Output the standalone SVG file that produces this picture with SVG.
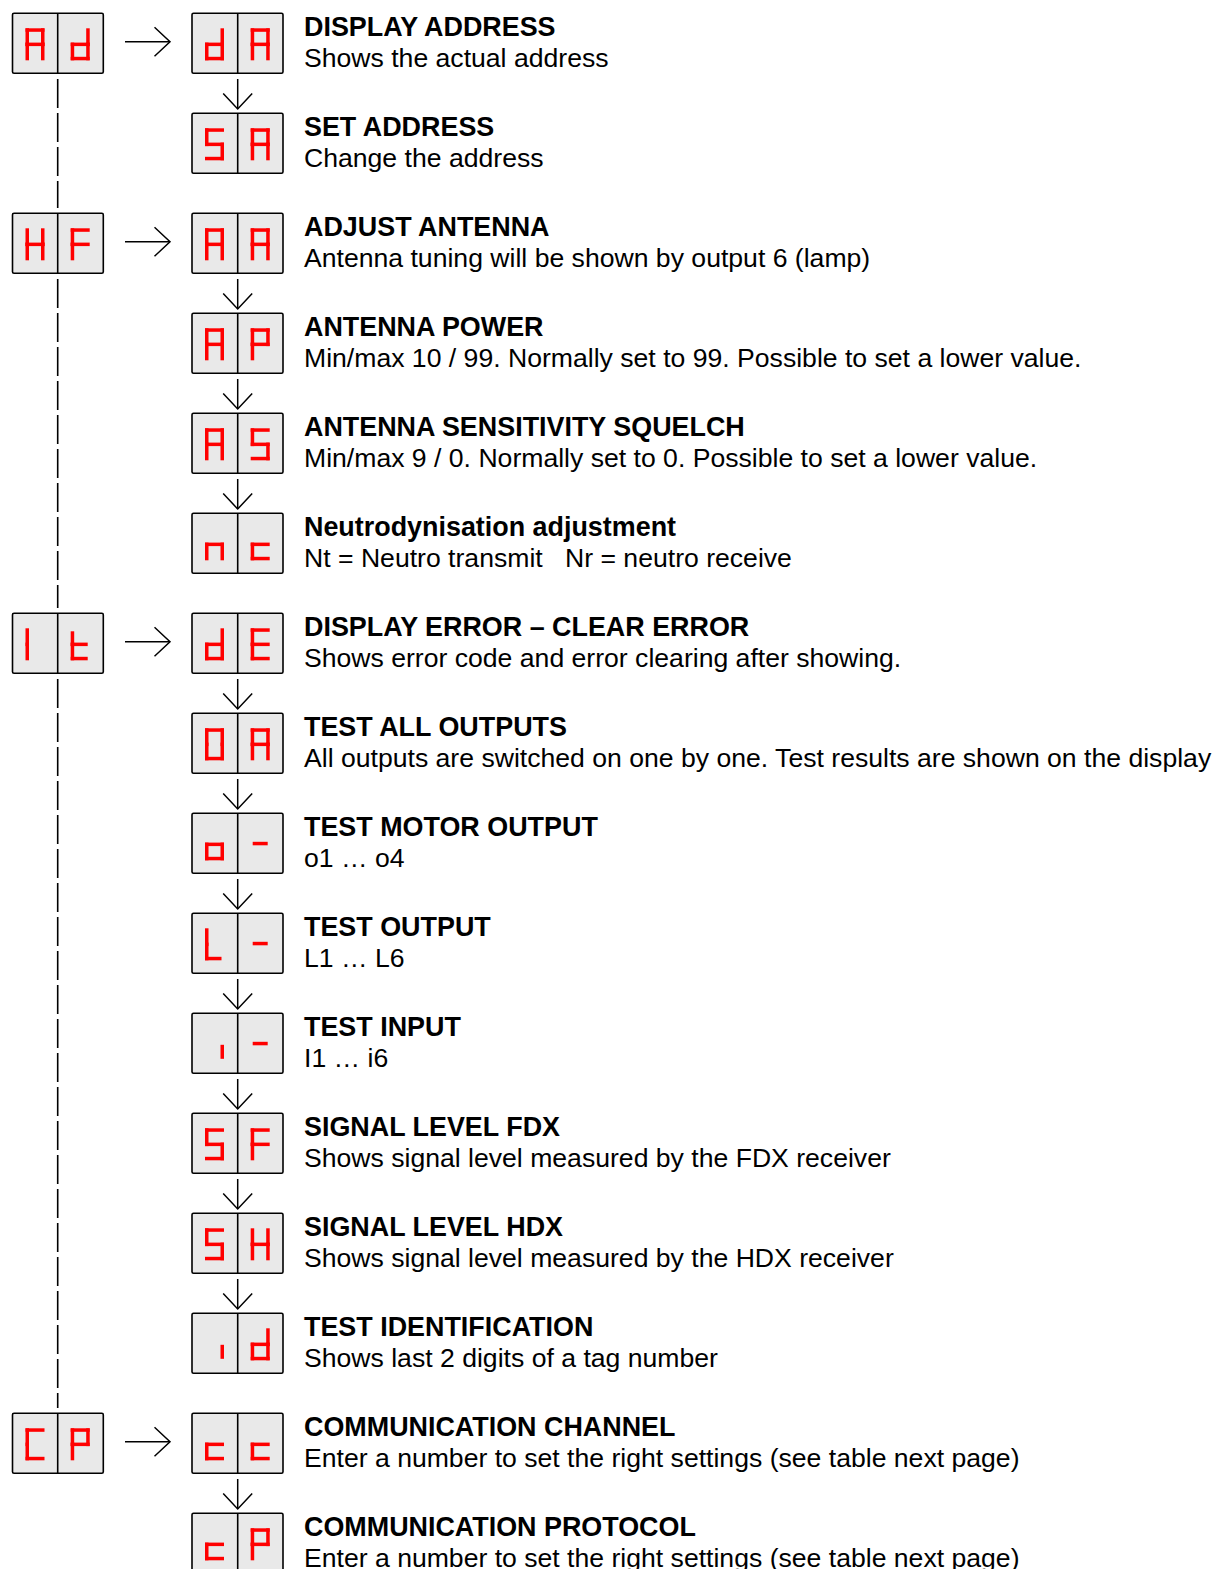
<svg xmlns="http://www.w3.org/2000/svg" xmlns:xlink="http://www.w3.org/1999/xlink" width="1220" height="1569" viewBox="0 0 1220 1569">
<style>
.box{fill:#E9E9E9;stroke:#000;stroke-width:1.6}
.div{stroke:#000;stroke-width:1.6}
.seg{fill:#FF0000}
.conn{fill:none;stroke:#000;stroke-width:1.5}
.dash{fill:none;stroke:#000;stroke-width:1.6;stroke-dasharray:29 5}
.t{font-family:"Liberation Sans",Arial,sans-serif;font-size:26.6px;fill:#000}
.b{font-weight:bold;font-size:26.9px}
</style>
<defs>
<marker id="arr" markerUnits="userSpaceOnUse" markerWidth="18" markerHeight="32" viewBox="-1 -1 18 32" refX="15.5" refY="14.5" orient="auto">
<path d="M0,0 L15.5,14.5 L0,29" fill="none" stroke="#000" stroke-width="1.5"/>
</marker>
<rect id="sa" class="seg" x="0" y="0" width="19" height="3.5"/>
<rect id="sb" class="seg" x="15.5" y="0" width="3.5" height="17.8"/>
<rect id="sc" class="seg" x="15.5" y="14.3" width="3.5" height="17.7"/>
<rect id="sd" class="seg" x="0" y="28.5" width="19" height="3.5"/>
<rect id="se" class="seg" x="0" y="14.3" width="3.5" height="17.7"/>
<rect id="sf" class="seg" x="0" y="0" width="3.5" height="17.8"/>
<rect id="sg" class="seg" x="0" y="14.3" width="19" height="3.5"/>
<g id="gA"><use href="#sa"/><use href="#sb"/><use href="#sc"/><use href="#se"/><use href="#sf"/><use href="#sg"/></g>
<g id="gd"><use href="#sb"/><use href="#sc"/><use href="#sd"/><use href="#se"/><use href="#sg"/></g>
<g id="gS"><use href="#sa"/><use href="#sf"/><use href="#sg"/><use href="#sc"/><use href="#sd"/></g>
<g id="gH"><use href="#sf"/><use href="#sb"/><use href="#se"/><use href="#sc"/><use href="#sg"/></g>
<g id="gF"><use href="#sa"/><use href="#sf"/><use href="#se"/><use href="#sg"/></g>
<g id="gP"><use href="#sa"/><use href="#sb"/><use href="#sf"/><use href="#sg"/><use href="#se"/></g>
<g id="gn"><use href="#sg"/><use href="#se"/><use href="#sc"/></g>
<g id="gc"><use href="#sg"/><use href="#se"/><use href="#sd"/></g>
<g id="gI"><use href="#sf"/><use href="#se"/></g>
<g id="gt"><rect class="seg" x="0" y="3" width="3.5" height="14.8"/><use href="#se"/><rect class="seg" x="0" y="14.3" width="17" height="3.5"/><rect class="seg" x="0" y="28.5" width="17" height="3.5"/></g>
<g id="gE"><use href="#sa"/><use href="#sf"/><use href="#se"/><use href="#sg"/><use href="#sd"/></g>
<g id="g0"><use href="#sa"/><use href="#sb"/><use href="#sc"/><use href="#sd"/><use href="#se"/><use href="#sf"/></g>
<g id="go"><use href="#sg"/><use href="#sc"/><use href="#sd"/><use href="#se"/></g>
<g id="gmin"><rect class="seg" x="2" y="13.5" width="15" height="3.5"/></g>
<g id="gL"><use href="#sf"/><use href="#se"/><rect class="seg" x="0" y="28.5" width="16.5" height="3.5"/></g>
<g id="gi"><rect class="seg" x="15.5" y="16.5" width="3.5" height="14"/></g>
<g id="gC"><use href="#sa"/><use href="#sf"/><use href="#se"/><use href="#sd"/></g>
</defs>
<rect width="1220" height="1569" fill="#fff"/>

<g id="connectors">
<line class="dash" x1="57.7" y1="79" x2="57.7" y2="208"/>
<line class="dash" x1="57.7" y1="279" x2="57.7" y2="608"/>
<line class="dash" x1="57.7" y1="679" x2="57.7" y2="1408"/>
<line class="conn" x1="125" y1="41.7" x2="170" y2="41.7" marker-end="url(#arr)"/>
<line class="conn" x1="125" y1="241.7" x2="170" y2="241.7" marker-end="url(#arr)"/>
<line class="conn" x1="125" y1="641.7" x2="170" y2="641.7" marker-end="url(#arr)"/>
<line class="conn" x1="125" y1="1441.7" x2="170" y2="1441.7" marker-end="url(#arr)"/>
<line class="conn" x1="237.7" y1="79" x2="237.7" y2="109" marker-end="url(#arr)"/>
<line class="conn" x1="237.7" y1="279" x2="237.7" y2="309" marker-end="url(#arr)"/>
<line class="conn" x1="237.7" y1="379" x2="237.7" y2="409" marker-end="url(#arr)"/>
<line class="conn" x1="237.7" y1="479" x2="237.7" y2="509" marker-end="url(#arr)"/>
<line class="conn" x1="237.7" y1="679" x2="237.7" y2="709" marker-end="url(#arr)"/>
<line class="conn" x1="237.7" y1="779" x2="237.7" y2="809" marker-end="url(#arr)"/>
<line class="conn" x1="237.7" y1="879" x2="237.7" y2="909" marker-end="url(#arr)"/>
<line class="conn" x1="237.7" y1="979" x2="237.7" y2="1009" marker-end="url(#arr)"/>
<line class="conn" x1="237.7" y1="1079" x2="237.7" y2="1109" marker-end="url(#arr)"/>
<line class="conn" x1="237.7" y1="1179" x2="237.7" y2="1209" marker-end="url(#arr)"/>
<line class="conn" x1="237.7" y1="1279" x2="237.7" y2="1309" marker-end="url(#arr)"/>
<line class="conn" x1="237.7" y1="1479" x2="237.7" y2="1509" marker-end="url(#arr)"/>
</g>

<!-- left menu nodes -->
<g id="node-Ad">
<rect class="box" x="12.5" y="13.3" width="90.8" height="60" rx="1.5"/><line class="div" x1="57.7" y1="13.3" x2="57.7" y2="73.3"/>
<use href="#gA" x="25.5" y="28.3"/><use href="#gd" x="70.7" y="28.3"/>
</g>
<g id="node-HF">
<rect class="box" x="12.5" y="213.3" width="90.8" height="60" rx="1.5"/><line class="div" x1="57.7" y1="213.3" x2="57.7" y2="273.3"/>
<use href="#gH" x="25.5" y="228.3"/><use href="#gF" x="70.7" y="228.3"/>
</g>
<g id="node-It">
<rect class="box" x="12.5" y="613.3" width="90.8" height="60" rx="1.5"/><line class="div" x1="57.7" y1="613.3" x2="57.7" y2="673.3"/>
<use href="#gI" x="25.5" y="628.3"/><use href="#gt" x="70.7" y="628.3"/>
</g>
<g id="node-CP">
<rect class="box" x="12.5" y="1413.3" width="90.8" height="60" rx="1.5"/><line class="div" x1="57.7" y1="1413.3" x2="57.7" y2="1473.3"/>
<use href="#gC" x="25.5" y="1428.3"/><use href="#gP" x="70.7" y="1428.3"/>
</g>

<!-- right item nodes -->
<g id="node-dA">
<rect class="box" x="192" y="13.3" width="91" height="60" rx="1.5"/><line class="div" x1="237.7" y1="13.3" x2="237.7" y2="73.3"/>
<use href="#gd" x="205" y="28.3"/><use href="#gA" x="250.7" y="28.3"/>
<text class="t b" x="304" y="35.5">DISPLAY ADDRESS</text>
<text class="t" x="304" y="66.5">Shows the actual address</text>
</g>
<g id="node-SA">
<rect class="box" x="192" y="113.3" width="91" height="60" rx="1.5"/><line class="div" x1="237.7" y1="113.3" x2="237.7" y2="173.3"/>
<use href="#gS" x="205" y="128.3"/><use href="#gA" x="250.7" y="128.3"/>
<text class="t b" x="304" y="135.5">SET ADDRESS</text>
<text class="t" x="304" y="166.5">Change the address</text>
</g>
<g id="node-AA">
<rect class="box" x="192" y="213.3" width="91" height="60" rx="1.5"/><line class="div" x1="237.7" y1="213.3" x2="237.7" y2="273.3"/>
<use href="#gA" x="205" y="228.3"/><use href="#gA" x="250.7" y="228.3"/>
<text class="t b" x="304" y="235.5">ADJUST ANTENNA</text>
<text class="t" x="304" y="266.5">Antenna tuning will be shown by output 6 (lamp)</text>
</g>
<g id="node-AP">
<rect class="box" x="192" y="313.3" width="91" height="60" rx="1.5"/><line class="div" x1="237.7" y1="313.3" x2="237.7" y2="373.3"/>
<use href="#gA" x="205" y="328.3"/><use href="#gP" x="250.7" y="328.3"/>
<text class="t b" x="304" y="335.5">ANTENNA POWER</text>
<text class="t" x="304" y="366.5">Min/max 10 / 99. Normally set to 99. Possible to set a lower value.</text>
</g>
<g id="node-AS">
<rect class="box" x="192" y="413.3" width="91" height="60" rx="1.5"/><line class="div" x1="237.7" y1="413.3" x2="237.7" y2="473.3"/>
<use href="#gA" x="205" y="428.3"/><use href="#gS" x="250.7" y="428.3"/>
<text class="t b" x="304" y="435.5">ANTENNA SENSITIVITY SQUELCH</text>
<text class="t" x="304" y="466.5">Min/max 9 / 0. Normally set to 0. Possible to set a lower value.</text>
</g>
<g id="node-nc">
<rect class="box" x="192" y="513.3" width="91" height="60" rx="1.5"/><line class="div" x1="237.7" y1="513.3" x2="237.7" y2="573.3"/>
<use href="#gn" x="205" y="528.3"/><use href="#gc" x="250.7" y="528.3"/>
<text class="t b" x="304" y="535.5">Neutrodynisation adjustment</text>
<text class="t" x="304" y="566.5">Nt = Neutro transmit<tspan x="565">Nr = neutro receive</tspan></text>
</g>
<g id="node-dE">
<rect class="box" x="192" y="613.3" width="91" height="60" rx="1.5"/><line class="div" x1="237.7" y1="613.3" x2="237.7" y2="673.3"/>
<use href="#gd" x="205" y="628.3"/><use href="#gE" x="250.7" y="628.3"/>
<text class="t b" x="304" y="635.5">DISPLAY ERROR – CLEAR ERROR</text>
<text class="t" x="304" y="666.5">Shows error code and error clearing after showing.</text>
</g>
<g id="node-OA">
<rect class="box" x="192" y="713.3" width="91" height="60" rx="1.5"/><line class="div" x1="237.7" y1="713.3" x2="237.7" y2="773.3"/>
<use href="#g0" x="205" y="728.3"/><use href="#gA" x="250.7" y="728.3"/>
<text class="t b" x="304" y="735.5">TEST ALL OUTPUTS</text>
<text class="t" x="304" y="766.5">All outputs are switched on one by one. Test results are shown on the display</text>
</g>
<g id="node-o-">
<rect class="box" x="192" y="813.3" width="91" height="60" rx="1.5"/><line class="div" x1="237.7" y1="813.3" x2="237.7" y2="873.3"/>
<use href="#go" x="205" y="828.3"/><use href="#gmin" x="250.7" y="828.3"/>
<text class="t b" x="304" y="835.5">TEST MOTOR OUTPUT</text>
<text class="t" x="304" y="866.5">o1 … o4</text>
</g>
<g id="node-L-">
<rect class="box" x="192" y="913.3" width="91" height="60" rx="1.5"/><line class="div" x1="237.7" y1="913.3" x2="237.7" y2="973.3"/>
<use href="#gL" x="205" y="928.3"/><use href="#gmin" x="250.7" y="928.3"/>
<text class="t b" x="304" y="935.5">TEST OUTPUT</text>
<text class="t" x="304" y="966.5">L1 … L6</text>
</g>
<g id="node-i-">
<rect class="box" x="192" y="1013.3" width="91" height="60" rx="1.5"/><line class="div" x1="237.7" y1="1013.3" x2="237.7" y2="1073.3"/>
<use href="#gi" x="205" y="1028.3"/><use href="#gmin" x="250.7" y="1028.3"/>
<text class="t b" x="304" y="1035.5">TEST INPUT</text>
<text class="t" x="304" y="1066.5">I1 … i6</text>
</g>
<g id="node-SF">
<rect class="box" x="192" y="1113.3" width="91" height="60" rx="1.5"/><line class="div" x1="237.7" y1="1113.3" x2="237.7" y2="1173.3"/>
<use href="#gS" x="205" y="1128.3"/><use href="#gF" x="250.7" y="1128.3"/>
<text class="t b" x="304" y="1135.5">SIGNAL LEVEL FDX</text>
<text class="t" x="304" y="1166.5">Shows signal level measured by the FDX receiver</text>
</g>
<g id="node-SH">
<rect class="box" x="192" y="1213.3" width="91" height="60" rx="1.5"/><line class="div" x1="237.7" y1="1213.3" x2="237.7" y2="1273.3"/>
<use href="#gS" x="205" y="1228.3"/><use href="#gH" x="250.7" y="1228.3"/>
<text class="t b" x="304" y="1235.5">SIGNAL LEVEL HDX</text>
<text class="t" x="304" y="1266.5">Shows signal level measured by the HDX receiver</text>
</g>
<g id="node-id">
<rect class="box" x="192" y="1313.3" width="91" height="60" rx="1.5"/><line class="div" x1="237.7" y1="1313.3" x2="237.7" y2="1373.3"/>
<use href="#gi" x="205" y="1328.3"/><use href="#gd" x="250.7" y="1328.3"/>
<text class="t b" x="304" y="1335.5">TEST IDENTIFICATION</text>
<text class="t" x="304" y="1366.5">Shows last 2 digits of a tag number</text>
</g>
<g id="node-cc">
<rect class="box" x="192" y="1413.3" width="91" height="60" rx="1.5"/><line class="div" x1="237.7" y1="1413.3" x2="237.7" y2="1473.3"/>
<use href="#gc" x="205" y="1428.3"/><use href="#gc" x="250.7" y="1428.3"/>
<text class="t b" x="304" y="1435.5">COMMUNICATION CHANNEL</text>
<text class="t" x="304" y="1466.5">Enter a number to set the right settings (see table next page)</text>
</g>
<g id="node-cP">
<rect class="box" x="192" y="1513.3" width="91" height="60" rx="1.5"/><line class="div" x1="237.7" y1="1513.3" x2="237.7" y2="1573.3"/>
<use href="#gc" x="205" y="1528.3"/><use href="#gP" x="250.7" y="1528.3"/>
<text class="t b" x="304" y="1535.5">COMMUNICATION PROTOCOL</text>
<text class="t" x="304" y="1566.5">Enter a number to set the right settings (see table next page)</text>
</g>
</svg>
